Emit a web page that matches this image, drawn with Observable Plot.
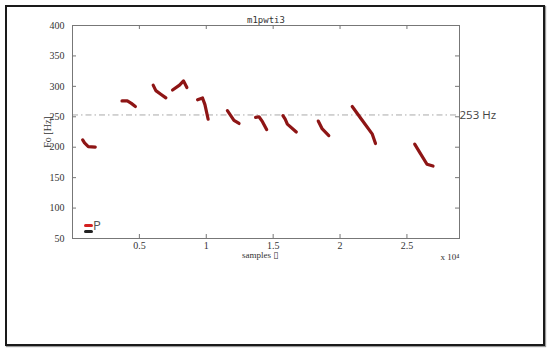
<!DOCTYPE html>
<html>
<head>
<meta charset="utf-8">
<script src="https://cdn.jsdelivr.net/npm/d3@7"></script>
<script src="https://cdn.jsdelivr.net/npm/@observablehq/plot@0.6"></script>
<style>
  html, body { margin: 0; padding: 0; background: #fff; }
  #wrap { position: relative; width: 550px; height: 352px; overflow: hidden; }
  #border { position: absolute; left: 5px; top: 5px; width: 536px; height: 337px; border: 2px solid #1a1a1a; box-shadow: 1px 1px 1px #999; pointer-events: none; }
  .leg { position: absolute; height: 3px; width: 9px; border-radius: 2px; }
  #legtxt { position: absolute; left: 93px; top: 219px; font: 13px "Open Sans", sans-serif; color: #555; line-height: 13px; }
</style>
</head>
<body>
<div id="wrap">
  <div id="chart"></div>
  <div id="border"></div>
  <div class="leg" style="left:84px;top:224px;background:#d42020"></div>
  <div class="leg" style="left:84px;top:230px;background:#222"></div>
  <div id="legtxt">P</div>
</div>
<script>
// Pitch track (Fo) segments
const segment = [1,1,1,1, 2,2,2,2, 3,3,3,3, 4,4,4,4, 5,5,5,5, 6,6,6, 7,7,7,7, 8,8,8,8, 9,9,9, 10,10,10,10, 11,11,11,11];
const samples = [760,900,1180,1700, 3700,4100,4400,4700, 6030,6230,6600,6980, 7480,8000,8300,8550,
                 9350,9720,9900,10140, 11580,12070,12450, 13690,13940,14200,14510,
                 15730,15900,16060,16730, 18370,18670,19160, 20910,21600,22400,22650,
                 25580,26000,26500,26950];
const f0 = [212,207,201,200, 276,276,272,267, 302,293,287,281, 294,302,309,298,
            278,281,270,246, 260,244,239, 249,250,242,229,
            252,246,238,225, 243,230,219, 267,246,222,206,
            205,190,172,169];
const meanF0 = [253];
const xTicks = [5000, 10000, 15000, 20000, 25000];
const yTicks = [50, 100, 150, 200, 250, 300, 350, 400];
const title = "m1pwti3";
const xLabel = "samples \u25AF";
const yLabel = "Fo [Hz]";
const xScaleNote = "x 10\u2074";

const data = samples.map((s, i) => ({s, f: f0[i], seg: segment[i]}));

const W = 550, H = 352, mL = 72, mR = 91, mT = 25, mB = 114;
const pw = W - mL - mR, ph = H - mT - mB;
const axisColor = "#777";
const serif = "'Liberation Serif', 'DejaVu Serif', serif";

const chart = Plot.plot({
  width: W, height: H,
  marginLeft: mL, marginRight: mR, marginTop: mT, marginBottom: mB,
  style: {fontFamily: serif, fontSize: "10px", color: "#333", background: "transparent"},
  x: {domain: [0, 28930]},
  y: {domain: [50, 400]},
  marks: [
    Plot.ruleY(meanF0, {y: d => d, stroke: "#aaa", strokeWidth: 1, strokeDasharray: "6,3,1.5,3"}),
    Plot.text(meanF0, {y: d => d, frameAnchor: "right", textAnchor: "start", dx: 0, text: d => `${d} Hz`,
      fontFamily: "'Open Sans', sans-serif", fontSize: 11.5, fill: "#444"}),
    Plot.frame({stroke: axisColor}),
    // inward ticks
    Plot.tickY(yTicks, {y: d => d, insetRight: pw - 4, stroke: axisColor}),
    Plot.tickY(yTicks, {y: d => d, insetLeft: pw - 4, stroke: axisColor}),
    Plot.tickX(xTicks, {x: d => d, insetTop: ph - 4, stroke: axisColor}),
    Plot.tickX(xTicks, {x: d => d, insetBottom: ph - 4, stroke: axisColor}),
    // tick labels
    Plot.axisY({ticks: yTicks, tickSize: 0, tickPadding: 8, label: null, tickFormat: d => d, fontFamily: serif, fontSize: 10}),
    Plot.axisX({ticks: xTicks, tickSize: 0, tickPadding: 3, label: null, tickFormat: d => String(d / 1e4), fontFamily: serif, fontSize: 10}),
    // titles
    Plot.text([title], {text: d => d, frameAnchor: "top", dy: -9, fontSize: 9, fontFamily: "'DejaVu Sans Mono', monospace", fill: "#333"}),
    Plot.text([yLabel], {text: d => d, frameAnchor: "left", textAnchor: "middle", dx: -25, rotate: -90, fontSize: 10, fontFamily: serif, fill: "#333"}),
    Plot.text([xLabel], {text: d => d, frameAnchor: "bottom", dy: 19, dx: -6, fontSize: 9, fontFamily: serif, fill: "#333"}),
    Plot.text([xScaleNote], {text: d => d, frameAnchor: "bottom-right", textAnchor: "end", dy: 21, fontSize: 9, fontFamily: serif, fill: "#333"}),
    // Fo track
    Plot.line(data, {x: "s", y: "f", z: "seg", stroke: "#8e1515", strokeWidth: 3.2, strokeLinecap: "round", strokeLinejoin: "round"})
  ]
});
document.getElementById("chart").appendChild(chart);
</script>
</body>
</html>
